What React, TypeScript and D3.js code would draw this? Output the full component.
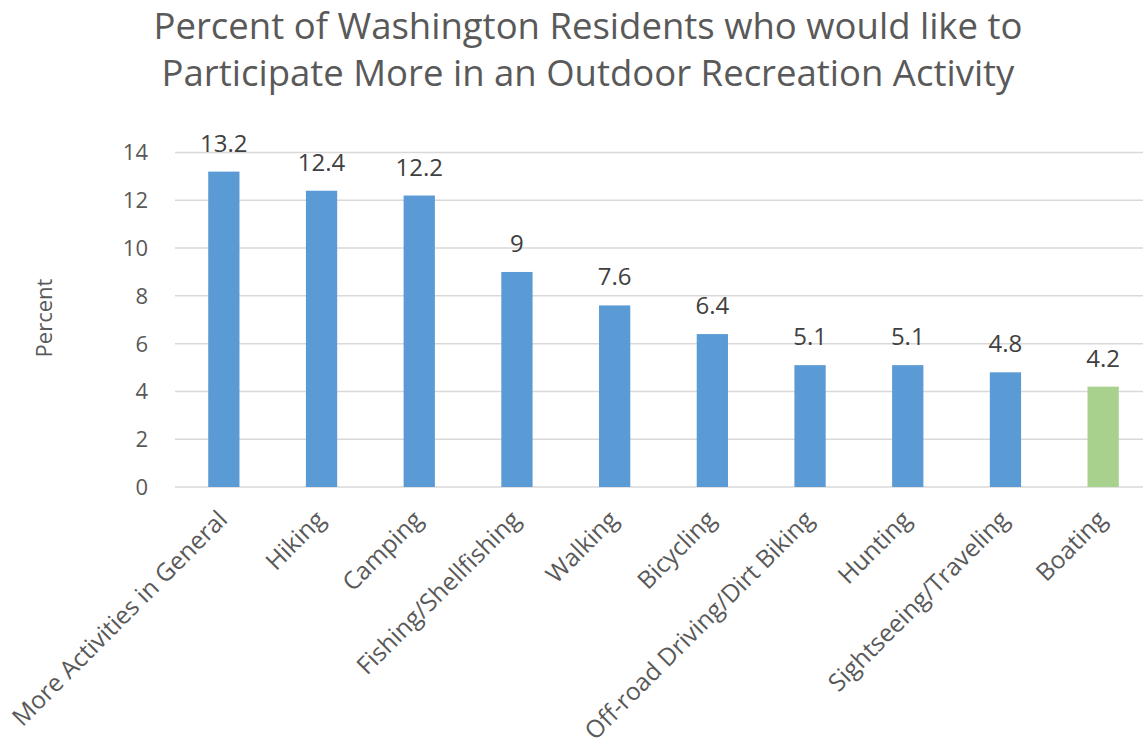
import React from "react";
import * as d3 from "d3";

const categories = [
  "More Activities in General",
  "Hiking",
  "Camping",
  "Fishing/Shellfishing",
  "Walking",
  "Bicycling",
  "Off-road Driving/Dirt Biking",
  "Hunting",
  "Sightseeing/Traveling",
  "Boating",
];
const values = [13.2, 12.4, 12.2, 9, 7.6, 6.4, 5.1, 5.1, 4.8, 4.2];
const barColors = ["#5B9BD5", "#5B9BD5", "#5B9BD5", "#5B9BD5", "#5B9BD5", "#5B9BD5", "#5B9BD5", "#5B9BD5", "#5B9BD5", "#A9D18E"];
const yTicks = [0, 2, 4, 6, 8, 10, 12, 14];
const titleLines = [
  "Percent of Washington Residents who would like to",
  "Participate More in an Outdoor Recreation Activity",
];
const yAxisTitle = "Percent";

const W = 1143;
const H = 742;
const FONT = "'Open Sans', sans-serif";

export default function App() {
  const x = d3
    .scaleBand<string>()
    .domain(categories)
    .range([175, 1152])
    .paddingInner(0.68)
    .paddingOuter(0.34);
  const y = d3.scaleLinear().domain([0, 14]).range([487, 152.5]);

  return (
    <svg
      width={W}
      height={H}
      style={{ position: "absolute", left: 0, top: 0, background: "#fff" }}
      fontFamily={FONT}
    >
      <rect x={0} y={0} width={W} height={H} fill="#fff" />
      {titleLines.map((t, i) => (
        <text
          key={i}
          x={588}
          y={38.5 + i * 47.5}
          textAnchor="middle"
          fontSize={36.5}
          fill="#595959"
        >
          {t}
        </text>
      ))}
      {yTicks.map((t) => (
        <g key={t}>
          <line x1={175} x2={1152} y1={y(t)} y2={y(t)} stroke="#D9D9D9" strokeWidth={1.5} />
          <text
            x={148}
            y={y(t)}
            dy="0.36em"
            textAnchor="end"
            fontSize={22}
            fill="#595959"
          >
            {t}
          </text>
        </g>
      ))}
      <text
        transform={`translate(52, 318) rotate(-90)`}
        textAnchor="middle"
        fontSize={22}
        fill="#595959"
      >
        {yAxisTitle}
      </text>
      {categories.map((c, i) => {
        const bx = x(c)!;
        const cx = bx + x.bandwidth() / 2;
        return (
          <g key={c}>
            <rect
              x={bx}
              y={y(values[i])}
              width={x.bandwidth()}
              height={y(0) - y(values[i])}
              fill={barColors[i]}
            />
            <text
              x={cx}
              y={y(values[i]) - 20}
              textAnchor="middle"
              fontSize={24}
              fill="#404040"
            >
              {values[i]}
            </text>
            <text
              transform={`translate(${cx + 5}, 521) rotate(-45)`}
              textAnchor="end"
              fontSize={24.5}
              fill="#595959"
            >
              {c}
            </text>
          </g>
        );
      })}
    </svg>
  );
}
